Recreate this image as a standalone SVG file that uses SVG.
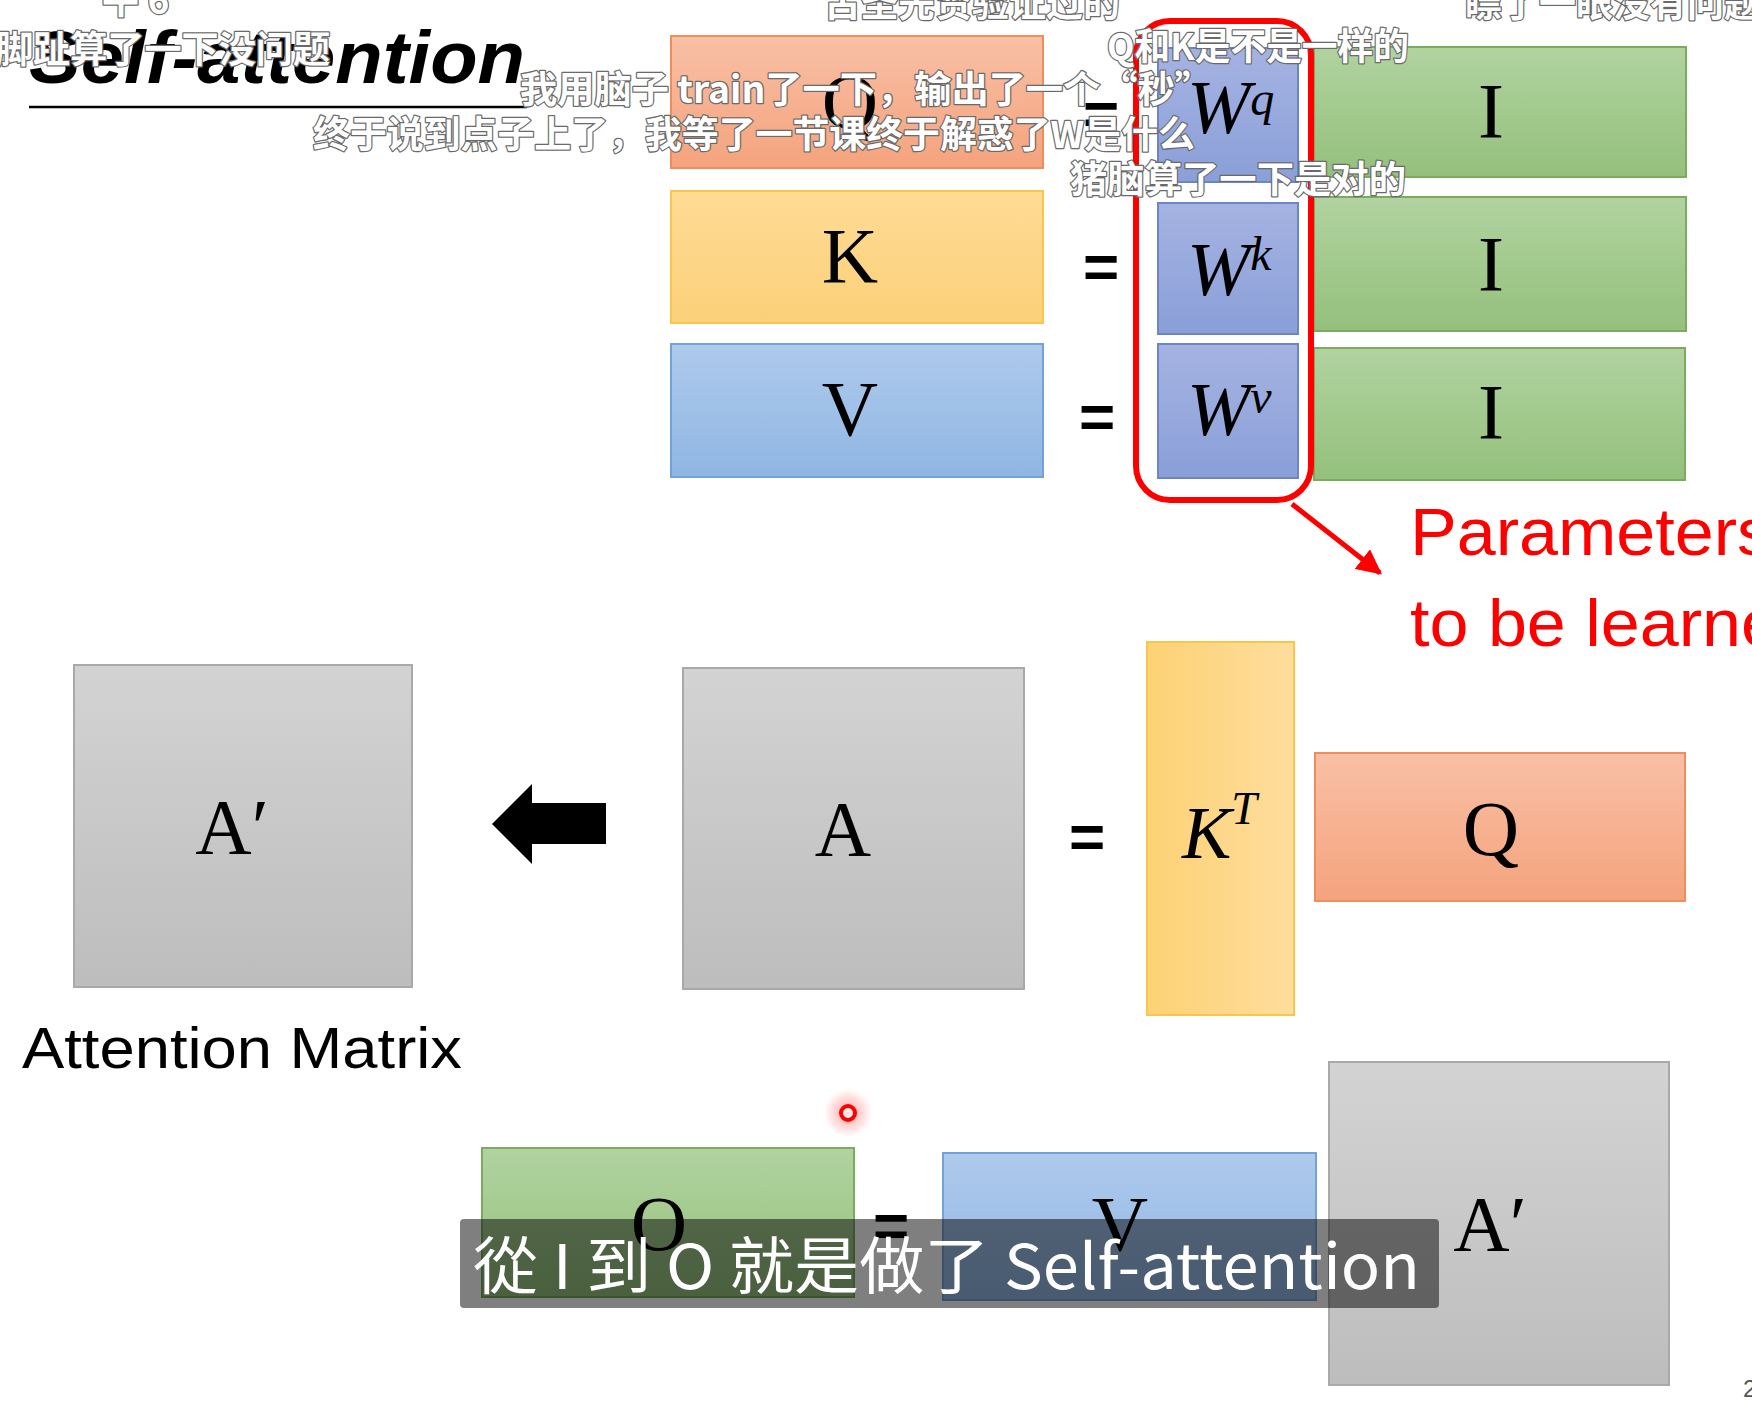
<svg xmlns="http://www.w3.org/2000/svg" width="1752" height="1404" viewBox="0 0 1752 1404">
<defs>
<linearGradient id="gOrange" x1="0" y1="0" x2="0" y2="1"><stop offset="0" stop-color="#f9c0a5"/><stop offset="1" stop-color="#f4a37d"/></linearGradient>
<linearGradient id="gYellow" x1="0" y1="0" x2="0" y2="1"><stop offset="0" stop-color="#fedb95"/><stop offset="1" stop-color="#fcd079"/></linearGradient>
<linearGradient id="gYellowH" x1="0" y1="0" x2="1" y2="0"><stop offset="0" stop-color="#fdd275"/><stop offset="1" stop-color="#fedd9d"/></linearGradient>
<linearGradient id="gBlue" x1="0" y1="0" x2="0" y2="1"><stop offset="0" stop-color="#aecaec"/><stop offset="1" stop-color="#90b6e3"/></linearGradient>
<linearGradient id="gW" x1="0" y1="0" x2="0" y2="1"><stop offset="0" stop-color="#a5b3e2"/><stop offset="1" stop-color="#8a9fd8"/></linearGradient>
<linearGradient id="gGreen" x1="0" y1="0" x2="0" y2="1"><stop offset="0" stop-color="#b1d3a0"/><stop offset="1" stop-color="#94c07c"/></linearGradient>
<linearGradient id="gGrey" x1="0" y1="0" x2="0" y2="1"><stop offset="0" stop-color="#d3d3d3"/><stop offset="1" stop-color="#bdbdbd"/></linearGradient>
<radialGradient id="gGlow"><stop offset="0" stop-color="#ff3030" stop-opacity="0.45"/><stop offset="1" stop-color="#ff3030" stop-opacity="0"/></radialGradient>
<marker id="redHead" viewBox="0 0 10 10" refX="9" refY="5" markerWidth="5" markerHeight="5" orient="auto" markerUnits="strokeWidth"><path d="M0,0 L10,5 L0,10 z" fill="#ff0000"/></marker>
<style>
.orange{fill:url(#gOrange);stroke:#f08d5c;stroke-width:2}
.yellow{fill:url(#gYellow);stroke:#f9c54b;stroke-width:2}
.yellowH{fill:url(#gYellowH);stroke:#f9c54b;stroke-width:2}
.blue{fill:url(#gBlue);stroke:#73a2da;stroke-width:2}
.wbox{fill:url(#gW);stroke:#6c84c8;stroke-width:2}
.green{fill:url(#gGreen);stroke:#7aab5f;stroke-width:2}
.grey{fill:url(#gGrey);stroke:#a9a9a9;stroke-width:2}
.lbl{font-family:"Liberation Serif","DejaVu Serif",serif;font-size:78px;fill:#000;text-anchor:middle}
.it{font-family:"Liberation Serif","DejaVu Serif",serif;font-style:italic;fill:#000}
.eq{font-family:"Liberation Sans",Arial,sans-serif;font-weight:bold;font-size:62px;fill:#000;text-anchor:middle}
.red{font-family:"Liberation Sans",Arial,sans-serif;font-size:66px;fill:#ff0000}
.dm{font-family:"Noto Sans CJK SC","Noto Sans",sans-serif;font-weight:bold;font-size:37px;fill:#ffffff;stroke:#6a6a6a;stroke-width:2.5;paint-order:stroke;stroke-linejoin:round}
.sub{font-family:"Noto Sans CJK TC","Noto Sans",sans-serif;font-size:62px;fill:#ffffff}
</style>
</defs>
<rect width="1752" height="1404" fill="#ffffff"/>

<g id="title">
<text x="29" y="83" font-family="Liberation Sans, Arial, sans-serif" font-weight="bold" font-style="italic" font-size="74" textLength="496" lengthAdjust="spacingAndGlyphs" fill="#000">Self-attention</text>
<line x1="29" y1="107" x2="527" y2="107" stroke="#000" stroke-width="2.5"/>
</g>

<g id="node-Q-top"><rect class="orange" x="671" y="36" width="372" height="132"/><text class="lbl" x="850" y="128">Q</text></g>
<g id="node-K-top"><rect class="yellow" x="671" y="191" width="372" height="132"/><text class="lbl" x="850" y="282">K</text></g>
<g id="node-V-top"><rect class="blue" x="671" y="344" width="372" height="133"/><text class="lbl" x="850" y="435">V</text></g>

<g id="eq-top"><text class="eq" x="1101" y="135">=</text><text class="eq" x="1101" y="288">=</text><text class="eq" x="1097" y="438">=</text></g>

<g id="node-Wq"><rect class="wbox" x="1158" y="48" width="140" height="134"/><text class="it" x="1187" y="133" font-size="76">W<tspan font-size="48" dy="-18">q</tspan></text></g>
<g id="node-Wk"><rect class="wbox" x="1158" y="203" width="140" height="131"/><text class="it" x="1187" y="295" font-size="76">W<tspan font-size="48" dy="-25">k</tspan></text></g>
<g id="node-Wv"><rect class="wbox" x="1158" y="344" width="140" height="134"/><text class="it" x="1187" y="435" font-size="76">W<tspan font-size="48" dy="-22">v</tspan></text></g>

<g id="node-I1"><rect class="green" x="1314" y="47" width="372" height="130"/><text class="lbl" x="1491" y="137">I</text></g>
<g id="node-I2"><rect class="green" x="1314" y="197" width="372" height="134"/><text class="lbl" x="1491" y="290">I</text></g>
<g id="node-I3"><rect class="green" x="1314" y="348" width="371" height="132"/><text class="lbl" x="1491" y="438">I</text></g>

<g id="param-group"><rect x="1136" y="21" width="175" height="479" rx="34" ry="34" fill="none" stroke="#ff0000" stroke-width="6"/></g>

<g id="param-label">
<text class="red" x="1410" y="555" textLength="362" lengthAdjust="spacingAndGlyphs">Parameters</text>
<text class="red" x="1410" y="646" textLength="409" lengthAdjust="spacingAndGlyphs">to be learned</text>
</g>

<g id="node-Aprime-left"><rect class="grey" x="74" y="665" width="338" height="322"/><text class="lbl" x="232" y="853">A′</text></g>
<g id="label-attention-matrix"><text x="22" y="1068" font-family="Liberation Sans, Arial, sans-serif" font-size="58" textLength="440" lengthAdjust="spacingAndGlyphs" fill="#000">Attention Matrix</text></g>

<g id="node-A"><rect class="grey" x="683" y="668" width="341" height="321"/><text class="lbl" x="843" y="855">A</text></g>
<g id="eq-mid"><text class="eq" x="1087" y="858">=</text></g>
<g id="node-KT"><rect class="yellowH" x="1147" y="642" width="147" height="373"/><text class="it" x="1182" y="858" font-size="74">K<tspan font-size="46" dy="-34">T</tspan></text></g>
<g id="node-Q-mid"><rect class="orange" x="1315" y="753" width="370" height="148"/><text class="lbl" x="1491" y="855">Q</text></g>

<g id="node-O"><rect class="green" x="482" y="1148" width="372" height="149"/><text class="lbl" x="659" y="1250">O</text></g>
<g id="eq-bottom"><text class="eq" x="891" y="1247">=</text></g>
<g id="node-V-bottom"><rect class="blue" x="943" y="1153" width="373" height="147"/><text class="lbl" x="1120" y="1250">V</text></g>
<g id="node-Aprime-bottom"><rect class="grey" x="1329" y="1062" width="340" height="323"/><text class="lbl" x="1490" y="1250">A′</text></g>

<g id="connectors">
<polygon points="492,824 532,784 532,803 606,803 606,844 532,844 532,864" fill="#000"/>
<line x1="1292" y1="504" x2="1380" y2="573" stroke="#ff0000" stroke-width="5" marker-end="url(#redHead)"/>
</g>

<g id="pointer">
<circle cx="848" cy="1113" r="24" fill="url(#gGlow)"/>
<circle cx="848" cy="1113" r="7" fill="#ffe8e8" stroke="#ff0000" stroke-width="4"/>
</g>

<g id="page-number"><text x="1743" y="1397" font-family="Liberation Sans, Arial, sans-serif" font-size="24" fill="#555">2</text></g>

<g id="danmaku">
<text class="dm" x="102" y="14">牛 6</text>
<text class="dm" x="-4" y="63" textLength="334" lengthAdjust="spacingAndGlyphs">脚趾算了一下没问题</text>
<text class="dm" x="824" y="17" textLength="296" lengthAdjust="spacingAndGlyphs">古圣先贤验证过的</text>
<text class="dm" x="1465" y="17">瞟了一眼没有问题</text>
<text class="dm" x="1107" y="60" textLength="302" lengthAdjust="spacingAndGlyphs">Q和K是不是一样的</text>
<text class="dm" x="520" y="103" textLength="692" lengthAdjust="spacingAndGlyphs">我用脑子 train了一下，输出了一个“秒”</text>
<text class="dm" x="313" y="148" textLength="882" lengthAdjust="spacingAndGlyphs">终于说到点子上了，我等了一节课终于解惑了W是什么</text>
<text class="dm" x="1070" y="193" textLength="336" lengthAdjust="spacingAndGlyphs">猪脑算了一下是对的</text>
</g>

<g id="subtitle">
<rect x="460" y="1219" width="979" height="89" rx="4" ry="4" fill="#000" fill-opacity="0.5"/>
<text class="sub" x="473" y="1289" textLength="947" lengthAdjust="spacingAndGlyphs">從 I 到 O 就是做了 Self-attention</text>
</g>
</svg>
